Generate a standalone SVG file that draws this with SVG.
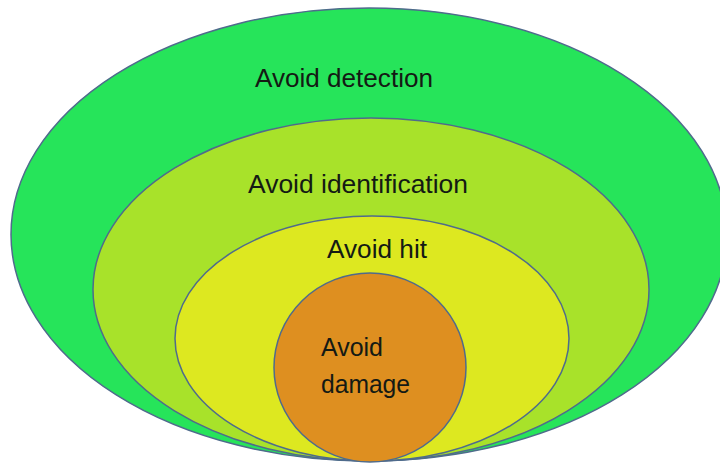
<svg xmlns="http://www.w3.org/2000/svg" width="720" height="463" viewBox="0 0 720 463">
<style>
.ring{stroke:#4f6b8c;stroke-width:1.5}
.lbl{font-family:"Liberation Sans","Open Sans",Arial,sans-serif;font-size:25px;fill:#141a14}
</style>
<rect width="720" height="463" fill="#ffffff"/>
<g id="detection">
<ellipse class="ring" cx="369" cy="234.5" rx="358" ry="226.5" fill="#26e45a"/>
<text class="lbl" x="255" y="87" textLength="178" lengthAdjust="spacingAndGlyphs">Avoid detection</text>
</g>
<g id="identification">
<ellipse class="ring" cx="371" cy="289.5" rx="278" ry="171.5" fill="#a8e22a"/>
<text class="lbl" x="248" y="193" textLength="220" lengthAdjust="spacingAndGlyphs">Avoid identification</text>
</g>
<g id="hit">
<ellipse class="ring" cx="372" cy="338.5" rx="197" ry="122.5" fill="#dde820"/>
<text class="lbl" x="327" y="258" textLength="100" lengthAdjust="spacingAndGlyphs">Avoid hit</text>
</g>
<g id="damage">
<ellipse class="ring" cx="370" cy="367.5" rx="96" ry="94.5" fill="#de8f20"/>
<text class="lbl" x="321" y="356" textLength="62" lengthAdjust="spacingAndGlyphs">Avoid</text>
<text class="lbl" x="321" y="393" textLength="89" lengthAdjust="spacingAndGlyphs">damage</text>
</g>
<g id="connectors"></g>
</svg>
